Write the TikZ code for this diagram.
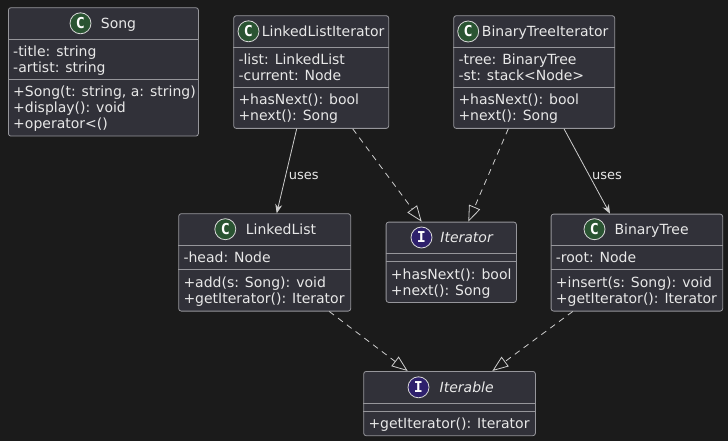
\documentclass[tikz,border=0pt]{standalone}
\usepackage{fontspec}
\setmainfont{DejaVu Sans}
\newfontfamily\circfont{DejaVu Sans Mono}
\usetikzlibrary{arrows.meta}
\definecolor{bgc}{RGB}{27,27,27}
\definecolor{boxfill}{RGB}{49,49,57}
\definecolor{boxline}{RGB}{150,150,155}
\definecolor{conn}{RGB}{205,205,205}
\definecolor{txt}{RGB}{232,232,232}
\definecolor{cgreen}{RGB}{42,84,50}
\definecolor{ipurple}{RGB}{46,32,108}
\definecolor{circline}{RGB}{215,215,215}
\begin{document}
\begin{tikzpicture}[x=1pt,y=-1pt,
  clsbox/.style={draw=boxline, fill=boxfill, rounded corners=2.5pt, inner sep=0pt, line width=0.8pt, anchor=north west},
  sepline/.style={draw=boxline, line width=0.8pt},
  hdr/.style={text=txt, inner sep=0pt, font=\fontsize{14}{16}\selectfont, anchor=base west},
  ihdr/.style={hdr, font=\fontsize{14}{16}\selectfont\itshape},
  mem/.style={text=txt, inner sep=0pt, font=\fontsize{14}{16}\selectfont, anchor=base west},
  circC/.style={circle, draw=circline, line width=0.8pt, fill=cgreen, minimum size=21pt, inner sep=0pt, text=white, font=\circfont\bfseries\fontsize{15}{15}\selectfont},
  circI/.style={circC, fill=ipurple},
  lbl/.style={text=txt, inner sep=0pt, font=\fontsize{13}{15}\selectfont},
  usesarrow/.style={draw=conn, line width=0.8pt, -{Stealth[length=9pt,width=7pt,inset=3pt]}},
  realize/.style={draw=conn, line width=0.8pt, dash pattern=on 6pt off 5pt, -{Triangle[open, length=16pt, width=12pt]}}
]
\fill[bgc] (0,0) rectangle (728,441);
\useasboundingbox (0,0) rectangle (728,441);

% ---------- Song ----------
\node[clsbox, minimum width=190pt, minimum height=128.4pt] (song) at (8,7.3) {};
\draw[sepline] ([yshift=-31.7pt]song.north west) -- ([yshift=-31.7pt]song.north east);
\draw[sepline] ([yshift=-71.7pt]song.north west) -- ([yshift=-71.7pt]song.north east);
\node[circC] (song-c) at (80.5,23.3) {C};
\node[hdr] (song-n) at (100.7,28.3) {Song};
\node[mem] (song-a1) at (13,56.7) {-title: string};
\node[mem] (song-a2) at (13,72.7) {-artist: string};
\node[mem] (song-m1) at (13,96.7) {+Song(t: string, a: string)};
\node[mem] (song-m2) at (13,112.7) {+display(): void};
\node[mem] (song-m3) at (13,128.7) {+operator<()};

% ---------- LinkedListIterator ----------
\node[clsbox, minimum width=155pt, minimum height=112.7pt] (lli) at (233.3,15.3) {};
\draw[sepline] ([yshift=-32pt]lli.north west) -- ([yshift=-32pt]lli.north east);
\draw[sepline] ([yshift=-72pt]lli.north west) -- ([yshift=-72pt]lli.north east);
\node[circC] (lli-c) at (248.5,31.3) {C};
\node[hdr] (lli-n) at (261.7,36.3) {LinkedListIterator};
\node[mem] (lli-a1) at (238.3,64.3) {-list: LinkedList};
\node[mem] (lli-a2) at (238.3,80.3) {-current: Node};
\node[mem] (lli-m1) at (238.3,105) {+hasNext(): bool};
\node[mem] (lli-m2) at (238.3,121) {+next(): Song};

% ---------- BinaryTreeIterator ----------
\node[clsbox, minimum width=161pt, minimum height=112.7pt] (bti) at (453.3,15.3) {};
\draw[sepline] ([yshift=-32pt]bti.north west) -- ([yshift=-32pt]bti.north east);
\draw[sepline] ([yshift=-72pt]bti.north west) -- ([yshift=-72pt]bti.north east);
\node[circC] (bti-c) at (468.2,31.5) {C};
\node[hdr] (bti-n) at (481.7,36.3) {BinaryTreeIterator};
\node[mem] (bti-a1) at (458.3,64.3) {-tree: BinaryTree};
\node[mem] (bti-a2) at (458.3,80.3) {-st: stack<Node>};
\node[mem] (bti-m1) at (458.3,105) {+hasNext(): bool};
\node[mem] (bti-m2) at (458.3,121) {+next(): Song};

% ---------- LinkedList ----------
\node[clsbox, minimum width=172pt, minimum height=97.4pt] (ll) at (178.3,213.3) {};
\draw[sepline] ([yshift=-32pt]ll.north west) -- ([yshift=-32pt]ll.north east);
\draw[sepline] ([yshift=-56pt]ll.north west) -- ([yshift=-56pt]ll.north east);
\node[circC] (ll-c) at (225.3,229.2) {C};
\node[hdr] (ll-n) at (245.7,234.2) {LinkedList};
\node[mem] (ll-a1) at (183.3,262.3) {-head: Node};
\node[mem] (ll-m1) at (183.3,287.3) {+add(s: Song): void};
\node[mem] (ll-m2) at (183.3,303.3) {+getIterator(): Iterator};

% ---------- Iterator ----------
\node[clsbox, minimum width=130.3pt, minimum height=80.3pt] (itr) at (385.7,221.7) {};
\draw[sepline] ([yshift=-31.3pt]itr.north west) -- ([yshift=-31.3pt]itr.north east);
\draw[sepline] ([yshift=-39.3pt]itr.north west) -- ([yshift=-39.3pt]itr.north east);
\node[circI] (itr-c) at (421.5,237.5) {I};
\node[ihdr] (itr-n) at (440.2,242.5) {Iterator};
\node[mem] (itr-m1) at (390.7,279.3) {+hasNext(): bool};
\node[mem] (itr-m2) at (390.7,295.3) {+next(): Song};

% ---------- BinaryTree ----------
\node[clsbox, minimum width=171.6pt, minimum height=97pt] (bt) at (550.7,213.7) {};
\draw[sepline] ([yshift=-32pt]bt.north west) -- ([yshift=-32pt]bt.north east);
\draw[sepline] ([yshift=-56pt]bt.north west) -- ([yshift=-56pt]bt.north east);
\node[circC] (bt-c) at (594.5,229.2) {C};
\node[hdr] (bt-n) at (614.3,234.2) {BinaryTree};
\node[mem] (bt-a1) at (555.7,262.3) {-root: Node};
\node[mem] (bt-m1) at (555.7,287.3) {+insert(s: Song): void};
\node[mem] (bt-m2) at (555.7,303.3) {+getIterator(): Iterator};

% ---------- Iterable ----------
\node[clsbox, minimum width=171.7pt, minimum height=64.3pt] (itb) at (363.3,371) {};
\draw[sepline] ([yshift=-32.3pt]itb.north west) -- ([yshift=-32.3pt]itb.north east);
\draw[sepline] ([yshift=-40.3pt]itb.north west) -- ([yshift=-40.3pt]itb.north east);
\node[circI] (itb-c) at (418.5,387.3) {I};
\node[ihdr] (itb-n) at (439.5,392.3) {Iterable};
\node[mem] (itb-m1) at (368.3,428.3) {+getIterator(): Iterator};

% ---------- connectors ----------
\draw[usesarrow] ([xshift=63.4pt]lli.south west) -- ([xshift=98.4pt]ll.north west);
\node[lbl] (uses1) at (303.8,175.7) {uses};
\draw[usesarrow] ([xshift=110.7pt]bti.south west) -- ([xshift=59.3pt]bt.north west);
\node[lbl] (uses2) at (607,175.7) {uses};

\draw[realize] ([xshift=119.4pt]lli.south west) -- ([xshift=36pt]itr.north west);
\draw[realize] ([xshift=55pt]bti.south west) -- ([xshift=82.6pt]itr.north west);
\draw[realize] ([xshift=151pt]ll.south west) -- ([xshift=44.4pt]itb.north west);
\draw[realize] ([xshift=22pt]bt.south west) -- ([xshift=129pt]itb.north west);
\end{tikzpicture}
\end{document}
